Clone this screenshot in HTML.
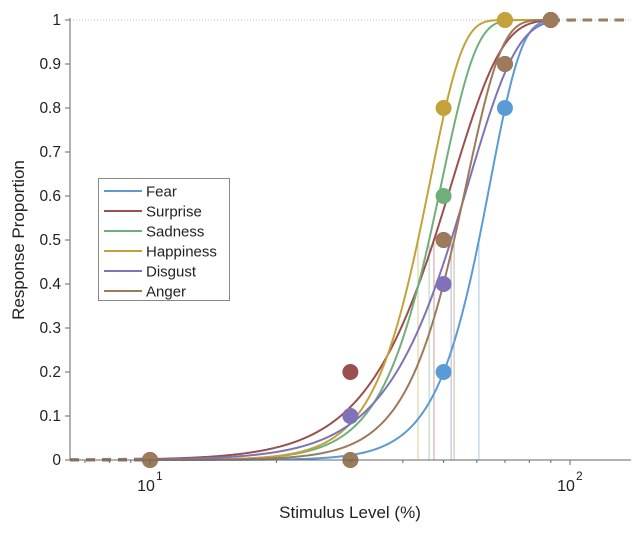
<!DOCTYPE html>
<html><head><meta charset="utf-8"><style>
body{margin:0;background:#fff;}
svg{display:block;font-family:"Liberation Sans",Arial,sans-serif;}
</style></head><body>
<svg id="chart" width="642" height="533" viewBox="0 0 642 533">
<g id="grid"></g>
<g id="curves"></g>
<g id="points"></g>
<g id="axes"></g>
<text x="350" y="518" font-size="17" text-anchor="middle" fill="#222">Stimulus Level (%)</text>
<text transform="translate(24,240) rotate(-90)" font-size="17" text-anchor="middle" fill="#222">Response Proportion</text>
<g id="legend"></g>
</svg>
<script>
const names = ["Fear","Surprise","Sadness","Happiness","Disgust","Anger"];
const colors = ["#5b9bd5","#9b4f4f","#6fb07a","#c4a23a","#7f72b8","#9c7a5a"];
const alphas = [64.6, 52.4, 49.5, 46.4, 57.4, 56.8];
const betas = [5.87, 3.68, 5.3, 5.6, 3.79, 5.24];
const stimLevels = [10, 30, 50, 70, 90];
const fearVals = [0, 0, 0.2, 0.8, 1];
const surpriseVals = [0, 0.2, 0.5, 0.9, 1];
const sadnessVals = [0, 0, 0.6, 1, 1];
const happinessVals = [0, 0.1, 0.8, 1, 1];
const disgustVals = [0, 0.1, 0.4, 0.9, 1];
const angerVals = [0, 0, 0.5, 0.9, 1];
const yTicks = [0,0.1,0.2,0.3,0.4,0.5,0.6,0.7,0.8,0.9,1];
const yTickLabels = ["0","0.1","0.2","0.3","0.4","0.5","0.6","0.7","0.8","0.9","1"];
const xMinorTicks = [7,8,9,20,30,40,50,60,70,80,90];
const xMajorTicks = [10,100];
const allVals = [fearVals,surpriseVals,sadnessVals,happinessVals,disgustVals,angerVals];

const NS="http://www.w3.org/2000/svg";
const X0=70,X1=631,Y0=460,Y1=20;
const xs = v => 150 + (Math.log10(v)-1)*420;
const ys = v => Y0 - v*(Y0-Y1);
const xInv = px => Math.pow(10, 1 + (px-150)/420);
function mk(tag, attrs, parent){const e=document.createElementNS(NS,tag);for(const k in attrs)e.setAttribute(k,attrs[k]);parent.appendChild(e);return e;}
const wb=(x,a,b)=>1-Math.exp(-Math.pow(x/a,b));

const grid=document.getElementById('grid');
const gl=mk('line',{x1:X0,x2:X1,y1:ys(1),y2:ys(1),stroke:'#bbb','stroke-width':1,'stroke-dasharray':'1,2'},grid);



const curves=document.getElementById('curves');
names.forEach((n,i)=>{
  const t=alphas[i]*Math.pow(Math.LN2,1/betas[i]);
  const l=mk('line',{x1:xs(t),x2:xs(t),y1:Y0,y2:ys(0.5),stroke:colors[i],'stroke-width':1,opacity:0.55},curves);
  
  
});
names.forEach((n,i)=>{
  let d='';
  for(let px=xs(stimLevels[0]);px<=xs(stimLevels[stimLevels.length-1])+0.01;px+=1){
    const v=wb(xInv(px),alphas[i],betas[i]);
    d+=(d?'L':'M')+px.toFixed(1)+','+ys(v).toFixed(2);
  }
  const p=mk('path',{d:d,fill:'none',stroke:colors[i],'stroke-width':2},curves);
  
  
  let dl='',dr='';
  for(let px=X0;px<=xs(stimLevels[0]);px+=1){dl+=(dl?'L':'M')+px+','+ys(wb(xInv(px),alphas[i],betas[i])).toFixed(2);}
  for(let px=xs(stimLevels[stimLevels.length-1]);px<=X1;px+=1){dr+=(dr?'L':'M')+px.toFixed(1)+','+ys(wb(xInv(px),alphas[i],betas[i])).toFixed(2);}
  [dl,dr].forEach((dd,k)=>{
    const e=mk('path',{d:dd,fill:'none',stroke:colors[i],'stroke-width':3,'stroke-dasharray':'9,7'},curves);
    
    
  });
});

const pts=document.getElementById('points');
names.forEach((n,i)=>{
  stimLevels.forEach((s,j)=>{
    const c=mk('circle',{cx:xs(s),cy:ys(allVals[i][j]),r:8,fill:colors[i]},pts);
    
    
  });
});

const ax=document.getElementById('axes');
const la=mk('line',{x1:X0,x2:X0,y1:Y1-2,y2:Y0,stroke:'#666','stroke-width':1},ax);

const ba=mk('line',{x1:X0-5,x2:X1,y1:Y0,y2:Y0,stroke:'#666','stroke-width':1},ax);

yTicks.forEach((v,i)=>{
  const t=mk('line',{x1:X0-5,x2:X0,y1:ys(v),y2:ys(v),stroke:'#666'},ax);
  
  const tx=mk('text',{x:X0-9,y:ys(v)+5,'font-size':15.5,'text-anchor':'end',fill:'#222'},ax);
  tx.textContent=yTickLabels[i];
  
});
xMinorTicks.forEach(v=>{
  const t=mk('line',{x1:xs(v),x2:xs(v),y1:Y0,y2:Y0+3,stroke:'#666'},ax);
  
});
xMajorTicks.forEach(v=>{
  const t=mk('line',{x1:xs(v),x2:xs(v),y1:Y0,y2:Y0+5,stroke:'#666'},ax);
  
  const tx=mk('text',{x:xs(v)-4,y:491,'font-size':16,'text-anchor':'middle',fill:'#222'},ax);
  tx.textContent='10';
  
  const ex=mk('text',{x:xs(v)+6,y:480,'font-size':12,fill:'#222'},ax);
  ex.textContent=String(Math.round(Math.log10(v)));
  
});

const lg=document.getElementById('legend');
const box=mk('rect',{x:98.5,y:178.5,width:131,height:122,fill:'#fff',stroke:'#888','stroke-width':1},lg);

names.forEach((n,i)=>{
  const y=191+i*20;
  const l=mk('line',{x1:104,x2:142,y1:y,y2:y,stroke:colors[i],'stroke-width':2},lg);
  
  const t=mk('text',{x:146,y:y+5.5,'font-size':15,fill:'#222'},lg);
  t.textContent=n;
  
});
</script>
</body></html>
